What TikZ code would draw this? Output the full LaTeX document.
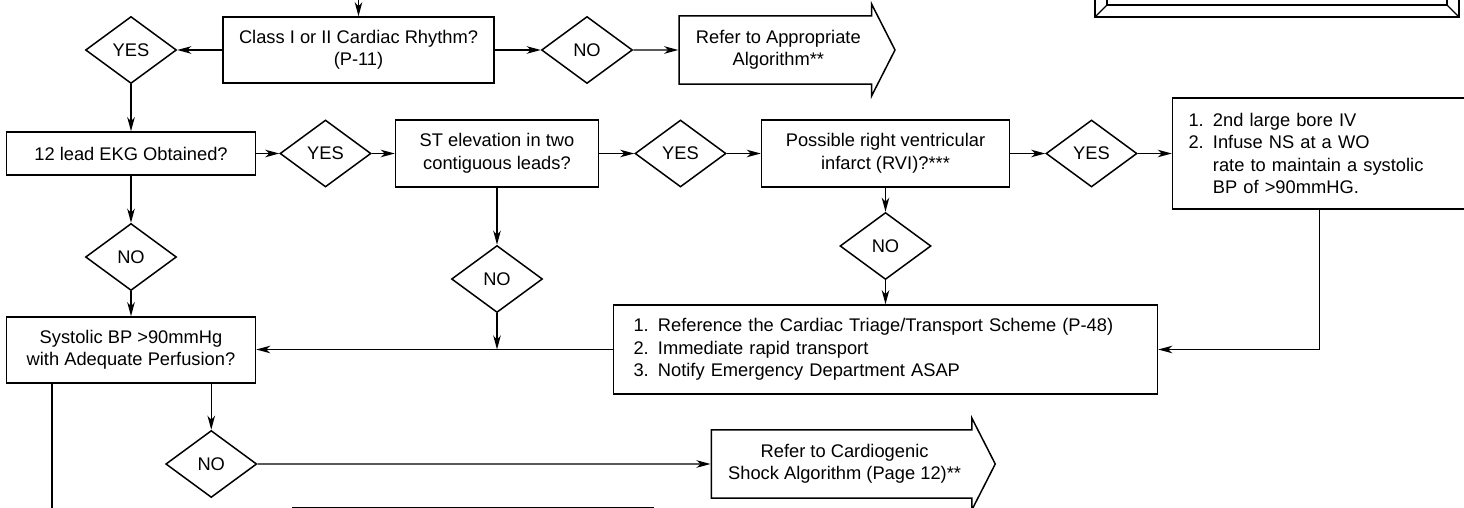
\documentclass[tikz,border=0pt]{standalone}
\usepackage{fontspec}
\setmainfont{Liberation Sans}
\usepackage{tikz}
\usetikzlibrary{shapes.geometric, shapes.arrows, arrows.meta, positioning, calc}
\tikzset{
    baseblock/.style={rectangle, draw=black, line width=1.5pt, font=\fontsize{18.3}{22.5}\selectfont, inner sep=4pt},
    queryblock/.style={baseblock, align=center},
    listblock/.style={baseblock, align=left},
    choice/.style={diamond, draw=black, line width=1.5pt, font=\fontsize{18.3}{22.5}\selectfont, minimum width=91pt, minimum height=67pt, inner sep=0pt},
    referblock/.style={single arrow, draw=black, line width=1.5pt, font=\fontsize{18.3}{22.5}\selectfont, align=center, single arrow head extend=12pt, single arrow tip angle=126, minimum width=91pt, inner xsep=4pt, inner ysep=13.5pt},
    arrow/.style={line width=1.4pt, -{Stealth[length=14pt, width=7.5pt, inset=4pt]}},
    line/.style={line width=1.4pt}
}

\begin{document}
\begin{tikzpicture}[x=1pt, y=1pt]
    \useasboundingbox (0,0) rectangle (1464,-508);
    \clip (0,0) rectangle (1464,-508);

    % first row
    \node (rhythm) [queryblock, minimum width=271pt, minimum height=66pt] at (358.5,-50) {Class I or II Cardiac Rhythm?\\(P-11)};
    \node (yes1) [choice, left=45pt of rhythm] {YES};
    \node (no1) [choice, right=46pt of rhythm] {NO};
    \node (appalg) [referblock, minimum height=216pt, right=45pt of no1] {Refer to Appropriate\\Algorithm**};

    % second row
    \node (ekg) [queryblock, minimum width=249pt, minimum height=43pt, below=47pt of yes1] {12 lead EKG Obtained?};
    \node (yes2) [choice, right=23pt of ekg] {YES};
    \node (stelev) [queryblock, minimum width=203pt, minimum height=67pt, right=23pt of yes2] {ST elevation in two\\contiguous leads?};
    \node (yes3) [choice, right=35pt of stelev] {YES};
    \node (rvi) [queryblock, minimum width=248pt, minimum height=67pt, right=34pt of yes3] {Possible right ventricular\\infarct (RVI)?***};
    \node (yes4) [choice, right=35pt of rvi] {YES};
    \node (fluids) [listblock, text width=262pt, inner xsep=16pt, minimum height=111pt, right=34pt of yes4] {1. 2nd large bore IV\\2. Infuse NS at a WO\\\phantom{2. }rate to maintain a systolic\\\phantom{2. }BP of >90mmHG.};

    % third row
    \node (no2) [choice, below=47pt of ekg] {NO};
    \node (sysbp) [queryblock, minimum width=249pt, minimum height=66pt, below=25pt of no2] {Systolic BP >90mmHg\\with Adequate Perfusion?};
    \node (no3) [choice, below=57pt of stelev] {NO};
    \node (no4) [choice, below=24pt of rvi] {NO};
    \node (triage) [listblock, text width=504pt, inner xsep=20pt, minimum height=89pt, below=24pt of no4] {1. Reference the Cardiac Triage/Transport Scheme (P-48)\\2. Immediate rapid transport\\3. Notify Emergency Department ASAP};

    % bottom row
    \node (no5) [choice, below=46pt of sysbp.south east, xshift=-45pt] {NO};
    \node (shock) [referblock, minimum height=284pt, right=453pt of no5] {Refer to Cardiogenic\\Shock Algorithm (Page 12)**};
    \node (nextstep) [baseblock, minimum width=361pt, minimum height=60pt, below=9pt of no5, xshift=261.5pt] {};

    % framed note, cut by the page edge
    \draw [line width=1.5pt] (1095,-17) rectangle (1459,40);
    \draw [line width=1.5pt] (1107,-5) rectangle (1447,40);
    \draw [line width=1.2pt] (1095,-17) -- (1107,-5) (1459,-17) -- (1447,-5);

    \coordinate (entry) at ([yshift=40pt]rhythm.north);
    \coordinate (exit) at (52,-540);

    \draw [arrow] (entry) -- (rhythm);
    \draw [arrow] (rhythm) -- (yes1);
    \draw [arrow] (rhythm) -- (no1);
    \draw [arrow] (no1) -- (appalg);
    \draw [arrow] (yes1) -- (ekg);
    \draw [arrow] (ekg) -- (yes2);
    \draw [arrow] (yes2) -- (stelev);
    \draw [arrow] (stelev) -- (yes3);
    \draw [arrow] (yes3) -- (rvi);
    \draw [arrow] (rvi) -- (yes4);
    \draw [arrow] (yes4) -- (fluids);
    \draw [arrow] (ekg) -- (no2);
    \draw [arrow] (no2) -- (sysbp);
    \draw [arrow] (stelev) -- (no3);
    \draw [arrow] (no3) -- (no3 |- triage.west);
    \draw [arrow] (triage.west) -- (triage.west -| sysbp.east);
    \draw [arrow] (rvi) -- (no4);
    \draw [arrow] (no4) -- (triage);
    \draw [arrow] (fluids) |- (triage);
    \draw [arrow] (sysbp.south -| no5) -- (no5);
    \draw [arrow] (no5) -- (shock);
    \draw [line] (sysbp.south -| exit) -- (exit);
\end{tikzpicture}
\end{document}
